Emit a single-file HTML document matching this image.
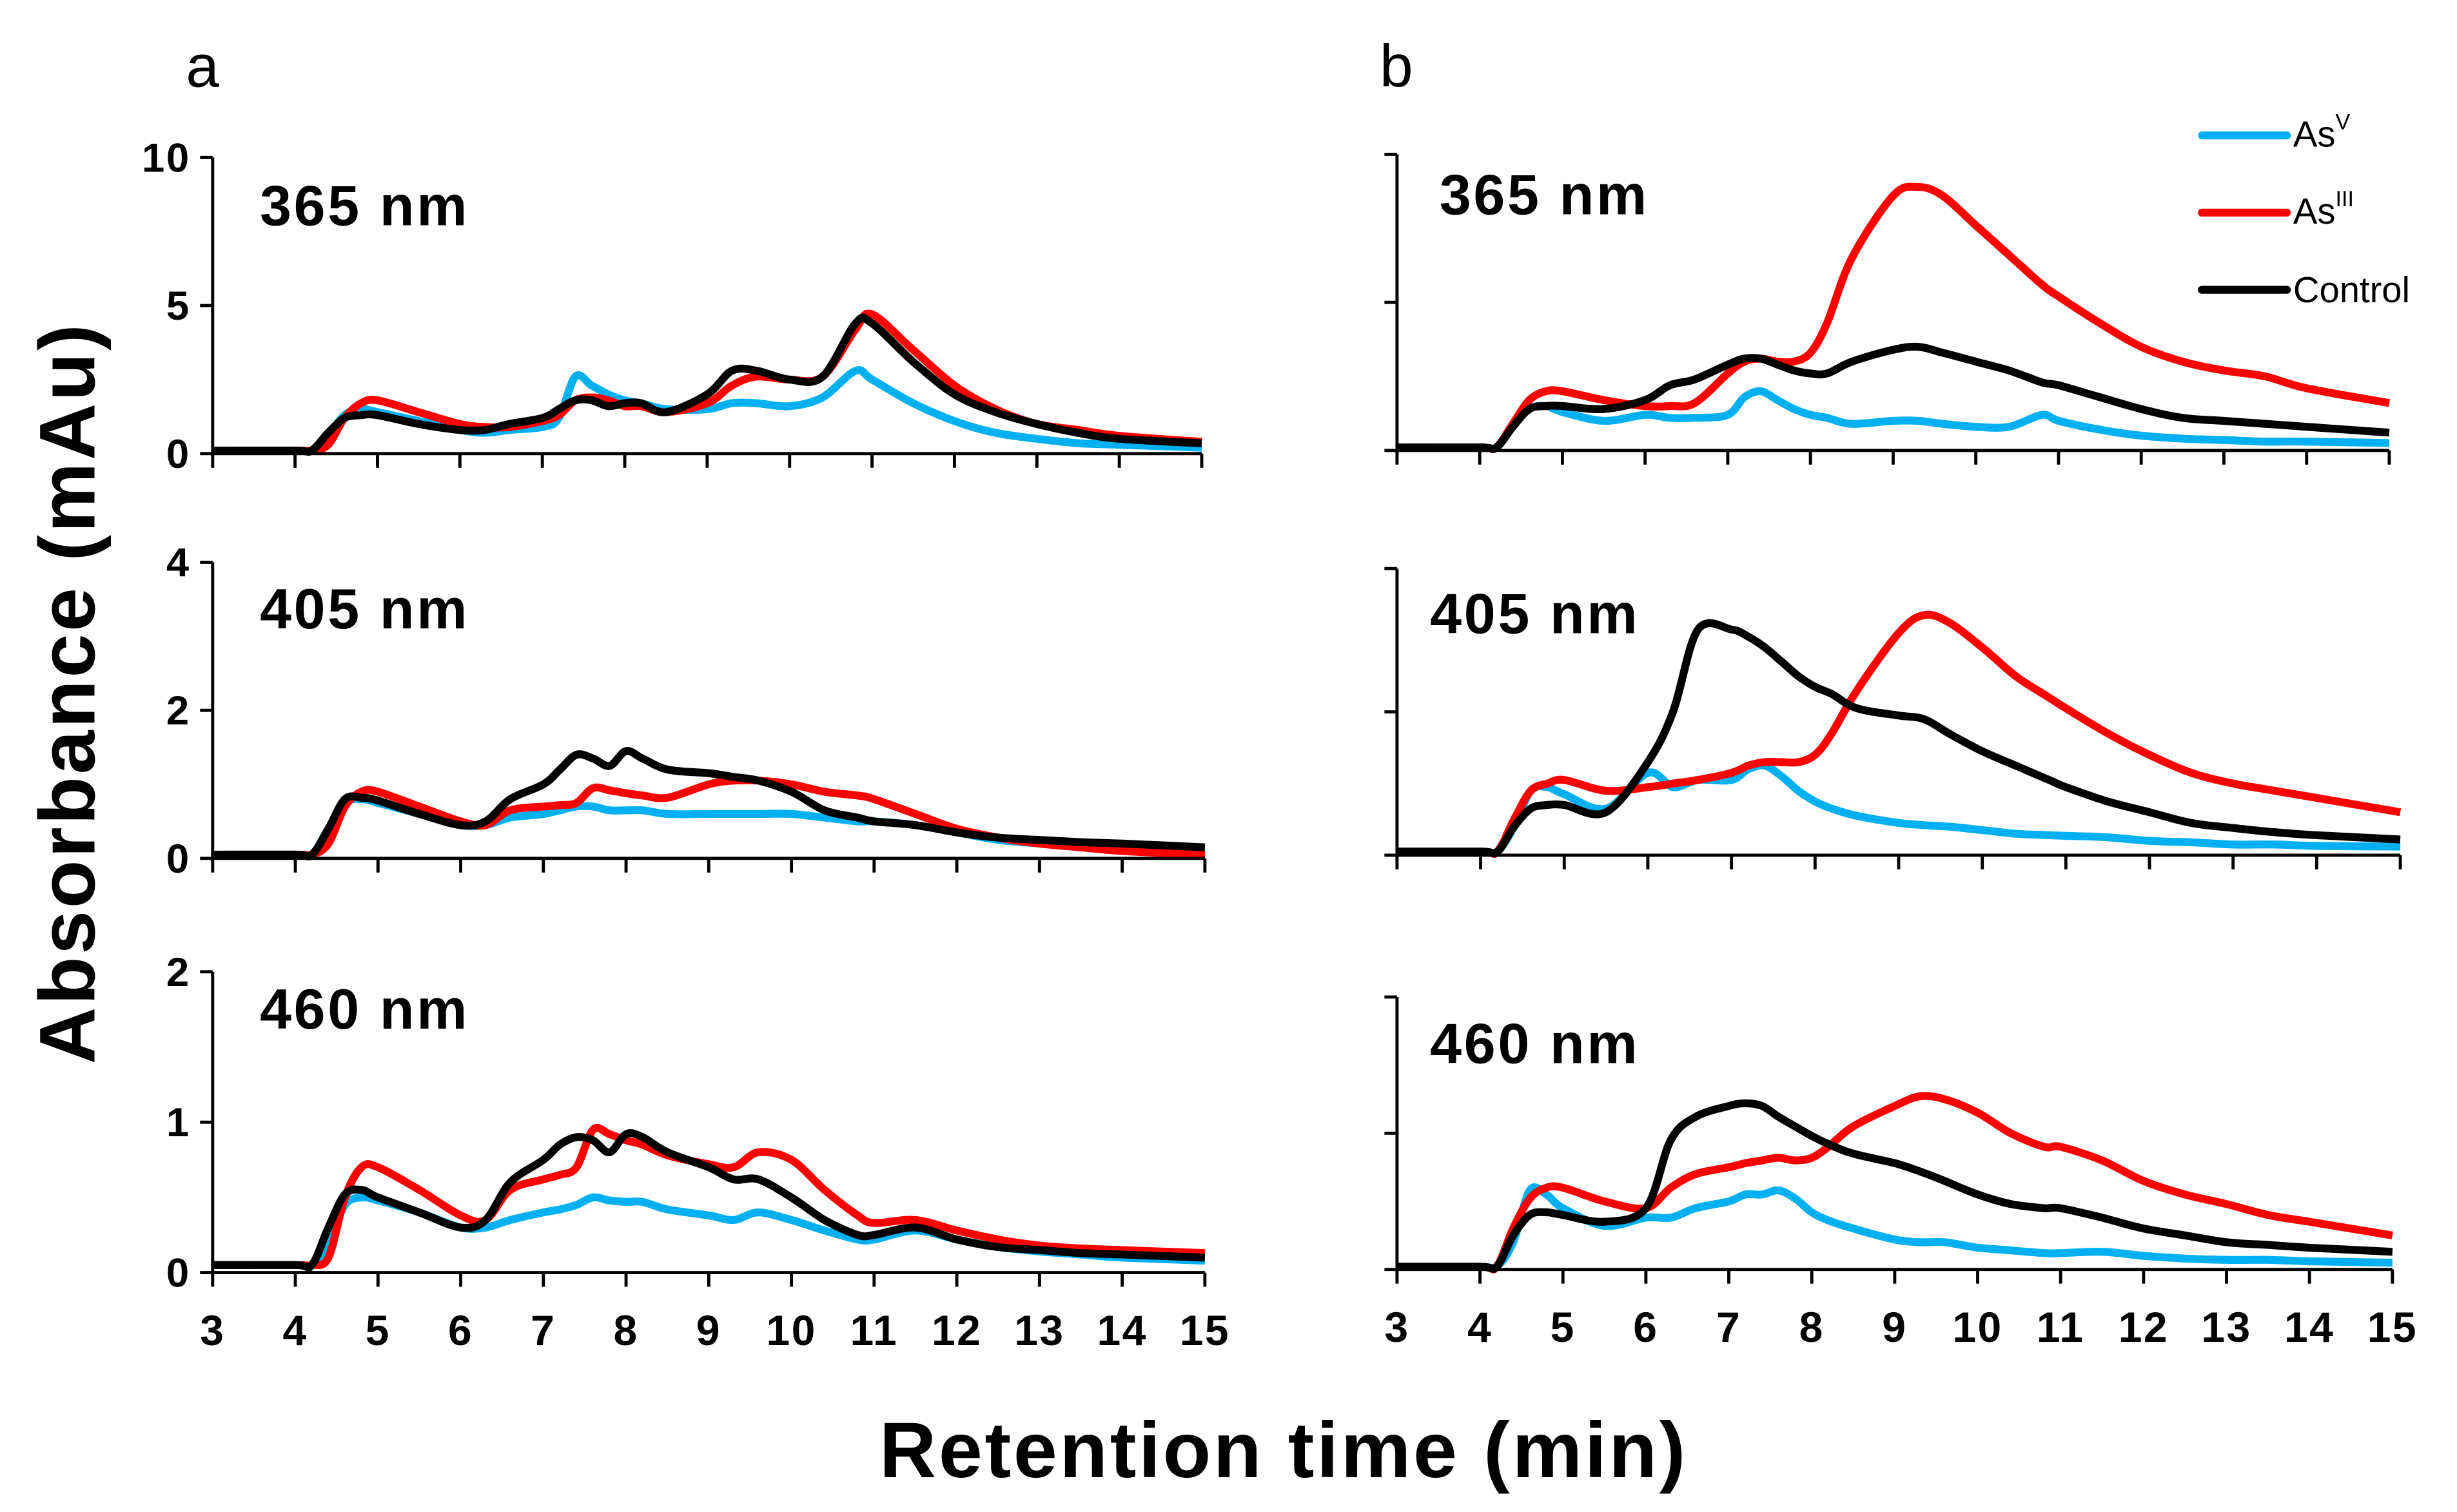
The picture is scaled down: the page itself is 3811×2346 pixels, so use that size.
<!DOCTYPE html>
<html><head><meta charset="utf-8"><style>
html,body{margin:0;padding:0;background:#fff}
svg{display:block}
text{font-family:"Liberation Sans",sans-serif}
</style></head><body>
<svg id="chart" width="3811" height="2346" viewBox="0 0 1560 960" preserveAspectRatio="none" xmlns="http://www.w3.org/2000/svg">
<rect x="0" y="0" width="1560" height="960" fill="#fff"/>
<text x="118" y="55" font-size="38">a</text>
<text x="876" y="55" font-size="38">b</text>
<text transform="translate(60,440) rotate(-90)" text-anchor="middle" font-size="50" font-weight="bold" letter-spacing="1.5">Absorbance (mAu)</text>
<text x="815" y="938" text-anchor="middle" font-size="50" font-weight="bold" letter-spacing="1.5">Retention time (min)</text>
<g>
<line x1="1398" y1="86" x2="1452" y2="86" stroke="#00b0f0" stroke-width="5" stroke-linecap="round"/>
<text x="1456" y="93" font-size="23">As<tspan font-size="14" dy="-11">V</tspan></text>
<line x1="1398" y1="135" x2="1452" y2="135" stroke="#ff0000" stroke-width="5" stroke-linecap="round"/>
<text x="1456" y="142" font-size="23">As<tspan font-size="14" dy="-11">III</tspan></text>
<line x1="1398" y1="184" x2="1452" y2="184" stroke="#000" stroke-width="5" stroke-linecap="round"/>
<text x="1456" y="192" font-size="23">Control</text>
</g>
<g id="plots"></g>
</svg>
<script>
const xs=[3,4,4.2,4.4,4.6,4.8,5,5.5,6,6.3,6.6,7,7.2,7.4,7.6,7.8,8,8.2,8.5,9,9.3,9.6,10,10.4,10.8,11,11.5,12,12.5,13,13.5,14,15];
const xTicks=[3,4,5,6,7,8,9,10,11,12,13,14,15];
const a365Blue=[0.1,0.1,0.1,0.6,1.3,1.5,1.4,1.1,0.8,0.7,0.8,0.9,1.2,2.6,2.3,2.0,1.8,1.7,1.5,1.5,1.7,1.7,1.6,1.9,2.8,2.5,1.7,1.1,0.7,0.5,0.35,0.3,0.2];
const a365Red=[0.1,0.1,0.1,0.3,1.2,1.7,1.8,1.4,1.0,0.9,0.9,1.1,1.3,1.8,1.9,1.8,1.6,1.6,1.4,1.7,2.3,2.6,2.5,2.6,4.2,4.7,3.5,2.3,1.5,1.0,0.8,0.6,0.4];
const a365Black=[0.1,0.1,0.1,0.7,1.2,1.3,1.3,1.0,0.8,0.8,1.0,1.2,1.5,1.8,1.8,1.6,1.7,1.7,1.4,2.0,2.8,2.8,2.5,2.6,4.4,4.4,3.1,2.0,1.4,1.0,0.7,0.5,0.35];
const a405Blue=[0.05,0.05,0.05,0.4,0.75,0.8,0.75,0.6,0.45,0.45,0.55,0.6,0.65,0.7,0.7,0.65,0.65,0.65,0.6,0.6,0.6,0.6,0.6,0.55,0.5,0.5,0.45,0.35,0.25,0.2,0.15,0.12,0.1];
const a405Red=[0.05,0.05,0.05,0.2,0.7,0.9,0.9,0.7,0.5,0.45,0.65,0.7,0.72,0.75,0.95,0.92,0.88,0.85,0.82,1.0,1.05,1.05,1.0,0.9,0.85,0.8,0.6,0.4,0.28,0.2,0.15,0.1,0.05];
const a405Black=[0.05,0.05,0.05,0.4,0.8,0.82,0.78,0.6,0.45,0.5,0.8,1.0,1.2,1.4,1.35,1.25,1.45,1.35,1.2,1.15,1.1,1.05,0.9,0.65,0.55,0.5,0.45,0.35,0.28,0.25,0.22,0.2,0.15];
const a460Blue=[0.05,0.05,0.05,0.2,0.45,0.5,0.48,0.4,0.3,0.3,0.35,0.4,0.42,0.45,0.5,0.48,0.47,0.47,0.42,0.38,0.35,0.4,0.35,0.28,0.22,0.22,0.28,0.22,0.17,0.14,0.12,0.1,0.08];
const a460Red=[0.05,0.05,0.05,0.1,0.5,0.7,0.7,0.55,0.38,0.35,0.55,0.62,0.65,0.7,0.95,0.92,0.88,0.85,0.78,0.72,0.7,0.8,0.75,0.55,0.38,0.33,0.35,0.28,0.22,0.18,0.16,0.15,0.13];
const a460Black=[0.05,0.05,0.05,0.3,0.52,0.55,0.5,0.4,0.3,0.35,0.6,0.75,0.85,0.9,0.88,0.8,0.92,0.9,0.8,0.7,0.62,0.62,0.5,0.35,0.25,0.25,0.3,0.22,0.17,0.15,0.13,0.12,0.1];
const b365Blue=[0.1,0.1,0.1,0.8,1.4,1.5,1.3,1.0,1.2,1.1,1.1,1.2,1.8,2.0,1.7,1.4,1.2,1.1,0.9,1.0,1.0,0.9,0.8,0.8,1.2,1.0,0.7,0.5,0.4,0.35,0.3,0.3,0.25];
const b365Red=[0.1,0.1,0.1,0.9,1.7,2.0,2.0,1.7,1.5,1.5,1.6,2.6,3.0,3.1,3.0,3.0,3.3,4.3,6.5,8.6,8.9,8.6,7.6,6.6,5.6,5.2,4.3,3.5,3.0,2.7,2.5,2.1,1.6];
const b365Black=[0.1,0.1,0.1,0.8,1.4,1.5,1.5,1.4,1.7,2.2,2.4,2.9,3.1,3.1,2.9,2.7,2.6,2.6,3.0,3.4,3.5,3.3,3.0,2.7,2.3,2.2,1.8,1.4,1.1,1.0,0.9,0.8,0.6];
const b405Blue=[0.05,0.05,0.05,0.4,0.9,0.95,0.85,0.65,1.15,0.95,1.05,1.05,1.2,1.25,1.1,0.9,0.75,0.65,0.55,0.45,0.42,0.4,0.35,0.3,0.28,0.27,0.25,0.2,0.18,0.15,0.15,0.13,0.12];
const b405Red=[0.05,0.05,0.05,0.5,0.9,1.0,1.05,0.9,0.95,1.0,1.05,1.15,1.25,1.3,1.3,1.3,1.4,1.7,2.3,3.1,3.35,3.25,2.9,2.5,2.2,2.05,1.7,1.4,1.15,1.0,0.9,0.8,0.6];
const b405Black=[0.05,0.05,0.05,0.4,0.65,0.7,0.7,0.6,1.3,2.0,3.15,3.15,3.05,2.9,2.7,2.5,2.35,2.25,2.05,1.95,1.9,1.7,1.45,1.25,1.05,0.95,0.75,0.6,0.45,0.38,0.32,0.28,0.22];
const b460Blue=[0.02,0.02,0.02,0.2,0.58,0.55,0.45,0.32,0.38,0.38,0.45,0.5,0.55,0.55,0.58,0.52,0.42,0.36,0.3,0.22,0.2,0.2,0.16,0.14,0.12,0.12,0.13,0.1,0.08,0.07,0.07,0.06,0.05];
const b460Red=[0.02,0.02,0.02,0.3,0.52,0.6,0.6,0.5,0.45,0.6,0.7,0.75,0.78,0.8,0.82,0.8,0.82,0.9,1.05,1.2,1.27,1.25,1.15,1.0,0.9,0.9,0.8,0.65,0.55,0.48,0.4,0.35,0.25];
const b460Black=[0.02,0.02,0.02,0.25,0.4,0.42,0.4,0.35,0.45,0.95,1.12,1.2,1.22,1.2,1.12,1.05,0.98,0.92,0.85,0.78,0.72,0.65,0.55,0.48,0.45,0.45,0.38,0.3,0.25,0.2,0.18,0.16,0.13];
const yTicks365=[0,5,10];
const yTicks405=[0,2,4];
const yTicks460=[0,1,2];
const panelLabels=["365 nm","405 nm","460 nm"];

const NS="http://www.w3.org/2000/svg";
const root=document.getElementById('plots');
function mk(tag,attrs,parent){const e=document.createElementNS(NS,tag);for(const k in attrs)e.setAttribute(k,attrs[k]);(parent||root).appendChild(e);return e;}

const panels=[
 {id:'a-365',x0:135,x1:763,y0:288,yt:100,ticks:yTicks365,lab:panelLabels[0],lx:165,ly:143,showY:true,showX:false,s:[a365Blue,a365Red,a365Black]},
 {id:'a-405',x0:135,x1:765,y0:545,yt:357,ticks:yTicks405,lab:panelLabels[1],lx:165,ly:399,showY:true,showX:false,s:[a405Blue,a405Red,a405Black]},
 {id:'a-460',x0:135,x1:765,y0:808,yt:617,ticks:yTicks460,lab:panelLabels[2],lx:165,ly:653,showY:true,showX:true,s:[a460Blue,a460Red,a460Black]},
 {id:'b-365',x0:887,x1:1517,y0:286,yt:98,ticks:yTicks365,lab:panelLabels[0],lx:914,ly:136,showY:false,showX:false,s:[b365Blue,b365Red,b365Black]},
 {id:'b-405',x0:887,x1:1524,y0:543,yt:361,ticks:yTicks405,lab:panelLabels[1],lx:908,ly:402,showY:false,showX:false,s:[b405Blue,b405Red,b405Black]},
 {id:'b-460',x0:887,x1:1519,y0:806,yt:633,ticks:yTicks460,lab:panelLabels[2],lx:908,ly:675,showY:false,showX:true,s:[b460Blue,b460Red,b460Black]}
];
const colors=['#00b0f0','#ff0000','#000000'];
const sNames=['asv','asiii','control'];

panels.forEach(p=>{
 const g=mk('g',{});
 
 
 const ymax=p.ticks[p.ticks.length-1];
 const X=v=>p.x0+(v-3)/12*(p.x1-p.x0);
 const Y=v=>p.y0-v/ymax*(p.y0-p.yt);
 p.s.forEach((arr,i)=>{
   const pts=xs.map((x,j)=>[X(x),Y(arr[j])]);
   let d='M'+pts[0][0]+','+pts[0][1];
   for(let j=0;j<pts.length-1;j++){
     const p0=pts[Math.max(0,j-1)],p1=pts[j],p2=pts[j+1],p3=pts[Math.min(pts.length-1,j+2)];
     const c1=[p1[0]+(p2[0]-p0[0])/6,p1[1]+(p2[1]-p0[1])/6];
     const c2=[p2[0]-(p3[0]-p1[0])/6,p2[1]-(p3[1]-p1[1])/6];
     d+=' C'+c1[0].toFixed(1)+','+c1[1].toFixed(1)+' '+c2[0].toFixed(1)+','+c2[1].toFixed(1)+' '+p2[0].toFixed(1)+','+p2[1].toFixed(1);
   }
   const path=mk('path',{d:d,fill:'none',stroke:colors[i],'stroke-width':5,'stroke-linejoin':'round'},g);
   
   
 });
 const ya=mk('line',{x1:p.x0,y1:p.yt,x2:p.x0,y2:p.y0,stroke:'#000','stroke-width':2},g);
 
 
 const xa=mk('line',{x1:p.x0,y1:p.y0,x2:p.x1,y2:p.y0,stroke:'#000','stroke-width':2},g);
 
 
 p.ticks.forEach(t=>{
   const tk=mk('line',{x1:p.x0-8,y1:Y(t),x2:p.x0,y2:Y(t),stroke:'#000','stroke-width':2},g);
   
   
   if(p.showY){
     const tl=mk('text',{x:p.x0-14,y:Y(t)+9,'text-anchor':'end','font-size':26,'font-weight':'bold','letter-spacing':1},g);
     tl.textContent=t;
     
     
   }
 });
 xTicks.forEach(t=>{
   const tk=mk('line',{x1:X(t),y1:p.y0,x2:X(t),y2:p.y0+9,stroke:'#000','stroke-width':2},g);
   
   
   if(p.showX){
     const tl=mk('text',{x:X(t),y:p.y0+46,'text-anchor':'middle','font-size':27,'font-weight':'bold','letter-spacing':1},g);
     tl.textContent=t;
     
     
   }
 });
 const lb=mk('text',{x:p.lx,y:p.ly,'font-size':36,'font-weight':'bold','letter-spacing':1.5},g);
 lb.textContent=p.lab;
 
 
});
</script>
</body></html>
